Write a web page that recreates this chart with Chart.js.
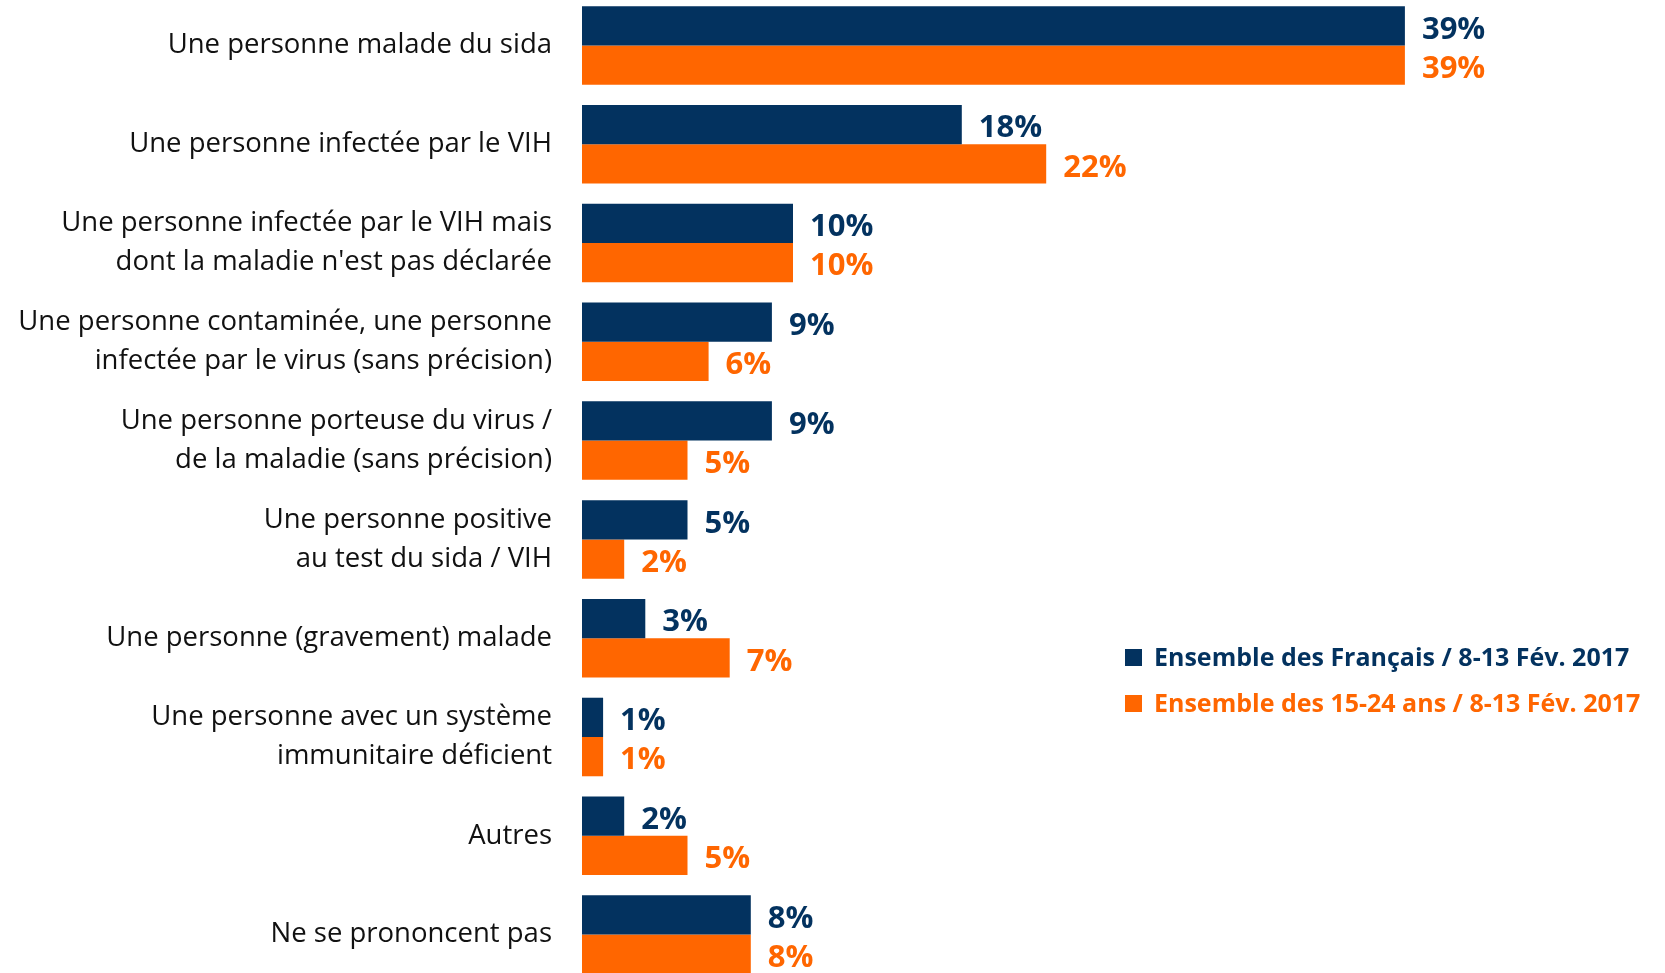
<!DOCTYPE html>
<html>
<head>
<meta charset="utf-8">
<script src="https://cdn.jsdelivr.net/npm/chart.js@4/dist/chart.umd.min.js"></script>
<style>
  html, body { margin: 0; padding: 0; background: #fff; overflow: hidden; }
  #wrap { position: absolute; left: 0; top: -4px; width: 1665px; height: 988px; }
</style>
</head>
<body>
<div id="wrap"><canvas id="sidaChart"></canvas></div>
<script>
const categories = [
    'Une personne malade du sida',
    'Une personne infectée par le VIH',
    ['Une personne infectée par le VIH mais', 'dont la maladie n\'est pas déclarée'],
    ['Une personne contaminée, une personne', 'infectée par le virus (sans précision)'],
    ['Une personne porteuse du virus /', 'de la maladie (sans précision)'],
    ['Une personne positive', 'au test du sida / VIH'],
    'Une personne (gravement) malade',
    ['Une personne avec un système', 'immunitaire déficient'],
    'Autres',
    'Ne se prononcent pas'
];
const francais = [39, 18, 10, 9, 9, 5, 3, 1, 2, 8];
const jeunes = [39, 22, 10, 6, 5, 2, 7, 1, 5, 8];
const seriesNames = ['Ensemble des Français / 8-13 Fév. 2017', 'Ensemble des 15-24 ans / 8-13 Fév. 2017'];
const blue = '#03325f';
const orange = '#ff6600';

// value labels at the end of each bar
const valueLabels = {
    id: 'valueLabels',
    afterDatasetsDraw(chart) {
        const ctx = chart.ctx;
        ctx.save();
        ctx.font = 'bold 31px "Open Sans"';
        ctx.textAlign = 'left';
        ctx.textBaseline = 'middle';
        chart.data.datasets.forEach((ds, i) => {
            chart.getDatasetMeta(i).data.forEach((bar, j) => {
                ctx.fillStyle = ds.backgroundColor;
                ctx.fillText(ds.data[j] + '%', bar.x + 17, bar.y + 4);
            });
        });
        ctx.restore();
    }
};

// legend drawn at the right, middle of the chart
const sideLegend = {
    id: 'sideLegend',
    afterDraw(chart) {
        const ctx = chart.ctx;
        ctx.save();
        ctx.font = 'bold 25px "Open Sans"';
        ctx.textBaseline = 'middle';
        chart.data.datasets.forEach((ds, i) => {
            const y = 662 + i * 46;
            ctx.fillStyle = ds.backgroundColor;
            ctx.fillRect(1125, y - 9, 17, 17);
            ctx.fillText(ds.label, 1154, y + 1);
        });
        ctx.restore();
    }
};

new Chart(document.getElementById('sidaChart'), {
    type: 'bar',
    data: {
        labels: categories,
        datasets: [
            { label: seriesNames[0], data: francais, backgroundColor: blue },
            { label: seriesNames[1], data: jeunes, backgroundColor: orange }
        ]
    },
    options: {
        indexAxis: 'y',
        responsive: true,
        maintainAspectRatio: false,
        animation: false,
        categoryPercentage: 0.795,
        barPercentage: 1,
        layout: { padding: { left: 0, right: 28, top: 0, bottom: 0 } },
        plugins: {
            legend: { display: false },
            tooltip: { enabled: false }
        },
        scales: {
            x: {
                display: false,
                min: 0,
                max: 50
            },
            y: {
                grid: { display: false },
                border: { display: false },
                afterFit(scale) {
                    scale.width = 582;
                    scale.paddingTop = 0;
                    scale.paddingBottom = 0;
                },
                ticks: {
                    color: '#111',
                    padding: 22,
                    font: { family: 'Open Sans', size: 27.5, lineHeight: 1.418 }
                }
            }
        }
    },
    plugins: [valueLabels, sideLegend]
});
</script>
</body>
</html>
